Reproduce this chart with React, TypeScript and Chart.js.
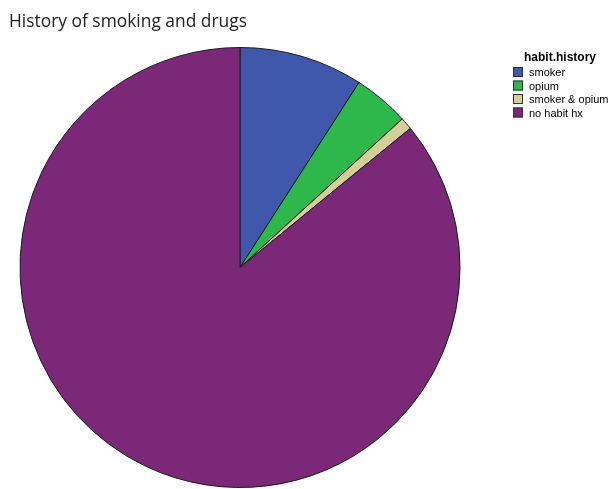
import React, { useEffect, useRef } from "react";
import { Chart, registerables } from "chart.js";

Chart.register(...registerables);

const titleText = "History of smoking and drugs";
const legendTitle = "habit.history";
const categories = ["smoker", "opium", "smoker & opium", "no habit hx"];
const percents = [9.1, 4.1, 0.9, 85.9];
const colors = ["#3F58AC", "#2EB84B", "#D4CF98", "#7B2878"];

const overlayPlugin = {
  id: "overlay",
  afterDraw(chart: any) {
    const ctx = chart.ctx as CanvasRenderingContext2D;
    ctx.save();
    // title
    ctx.fillStyle = "#222";
    ctx.textBaseline = "alphabetic";
    ctx.textAlign = "left";
    ctx.font = "19px 'Open Sans'";
    const w = ctx.measureText(titleText).width;
    const sx = 238 / w;
    ctx.save();
    ctx.translate(9, 27);
    ctx.scale(sx, 1);
    ctx.fillText(titleText, 0, 0);
    ctx.restore();

    // legend
    ctx.fillStyle = "#000";
    ctx.font = "bold 12px 'Liberation Sans'";
    ctx.fillText(legendTitle, 524, 61);
    ctx.font = "11px 'Liberation Sans'";
    const labels = chart.data.labels as string[];
    const bg = chart.data.datasets[0].backgroundColor as string[];
    labels.forEach((lab, i) => {
      const y = 67 + i * 13.5;
      ctx.fillStyle = bg[i];
      ctx.fillRect(513, y, 10, 10);
      ctx.strokeStyle = "#333";
      ctx.lineWidth = 1;
      ctx.strokeRect(513.5, y + 0.5, 9, 9);
      ctx.fillStyle = "#000";
      ctx.fillText(lab, 529, y + 9);
    });
    ctx.restore();
  },
};

export default function App() {
  const ref = useRef<HTMLCanvasElement>(null);
  useEffect(() => {
    document.body.style.margin = "0";
    const chart = new Chart(ref.current!, {
      type: "pie",
      data: {
        labels: categories,
        datasets: [
          {
            data: percents,
            backgroundColor: colors,
            borderColor: "#1a1a1a",
            borderWidth: 1,
          },
        ],
      },
      options: {
        animation: false,
        responsive: false,
        maintainAspectRatio: false,
        layout: { padding: { left: 18, right: 146, top: 47, bottom: 1 } },
        plugins: {
          legend: { display: false },
          title: { display: false },
          tooltip: { enabled: false },
        },
      },
      plugins: [overlayPlugin],
    });
    return () => chart.destroy();
  }, []);
  return (
    <div style={{ position: "absolute", left: 0, top: 0, width: 608, height: 489, background: "#fff" }}>
      <canvas ref={ref} width={608} height={489} style={{ width: 608, height: 489 }} />
    </div>
  );
}
